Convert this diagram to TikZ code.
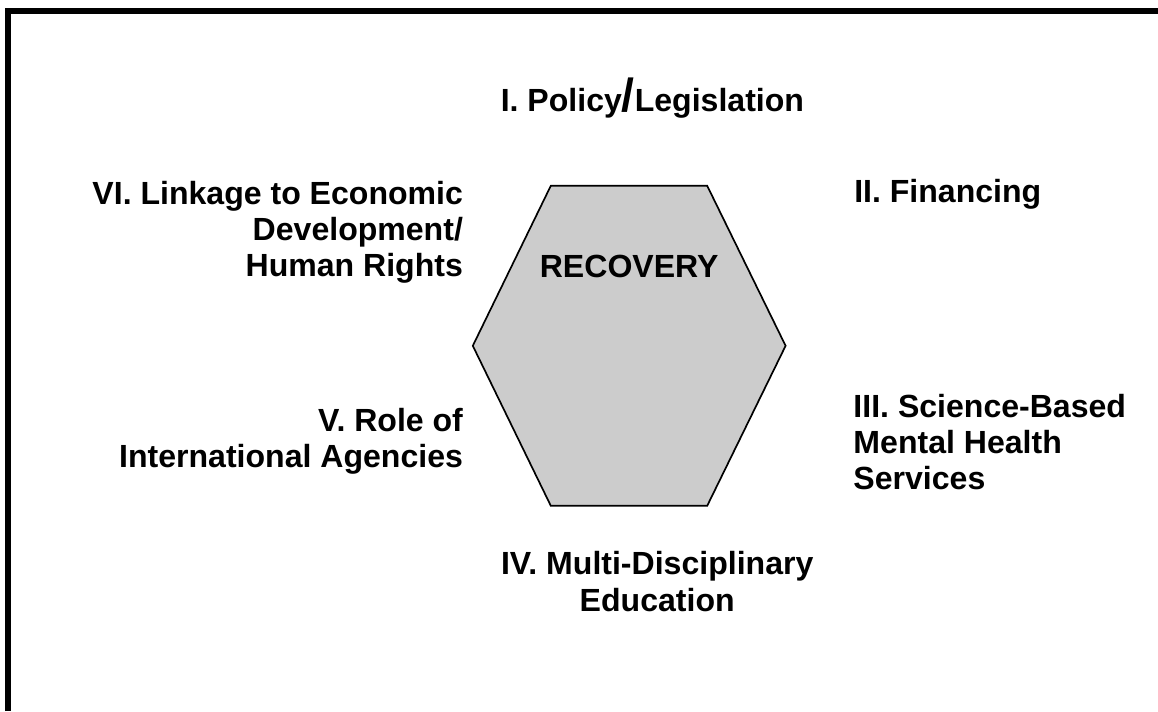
\documentclass[tikz,border=0pt]{standalone}
\usepackage{fontspec}
\setmainfont{Liberation Sans}

\begin{document}
\begin{tikzpicture}[lbl/.style={font=\fontsize{22.8}{25.9}\selectfont\bfseries, inner sep=0pt}]
		\useasboundingbox (0,0) rectangle (28.95,17.775);
		% frame
		\draw[line width=0.15cm] (0.2,0) -- (0.2,17.5) -- (28.95,17.5);
		% hexagon
		\filldraw[fill=black!20,line width=1.2pt] (13.77,13.13) -- (17.68,13.13) -- (19.64,9.13) -- (17.68,5.13) -- (13.77,5.13) -- (11.82,9.13) -- cycle;
		\node[lbl,anchor=base] (rec) at (15.73,10.825) {RECOVERY};
		% labels (multi-line ones placed at the baseline of their last line)
		\node[lbl,anchor=base] (pol) at (16.31,14.975) {I. Policy{\fontsize{33}{33}\selectfont/}Legislation};
		\node[lbl,anchor=base west] (fin) at (21.35,12.7) {II. Financing};
		\node[lbl,anchor=base west,align=left] (sci) at (21.33,5.525) {III. Science-Based\\Mental Health\\Services};
		\node[lbl,anchor=base,align=center] (edu) at (16.43,2.5) {IV. Multi-Disciplinary\\Education};
		\node[lbl,anchor=base east,align=right] (agen) at (11.58,6.075) {V. Role of\\International Agencies};
		\node[lbl,anchor=base east,align=right] (econ) at (11.58,10.85) {VI. Linkage to Economic\\Development/\\Human Rights};
\end{tikzpicture}
\end{document}
